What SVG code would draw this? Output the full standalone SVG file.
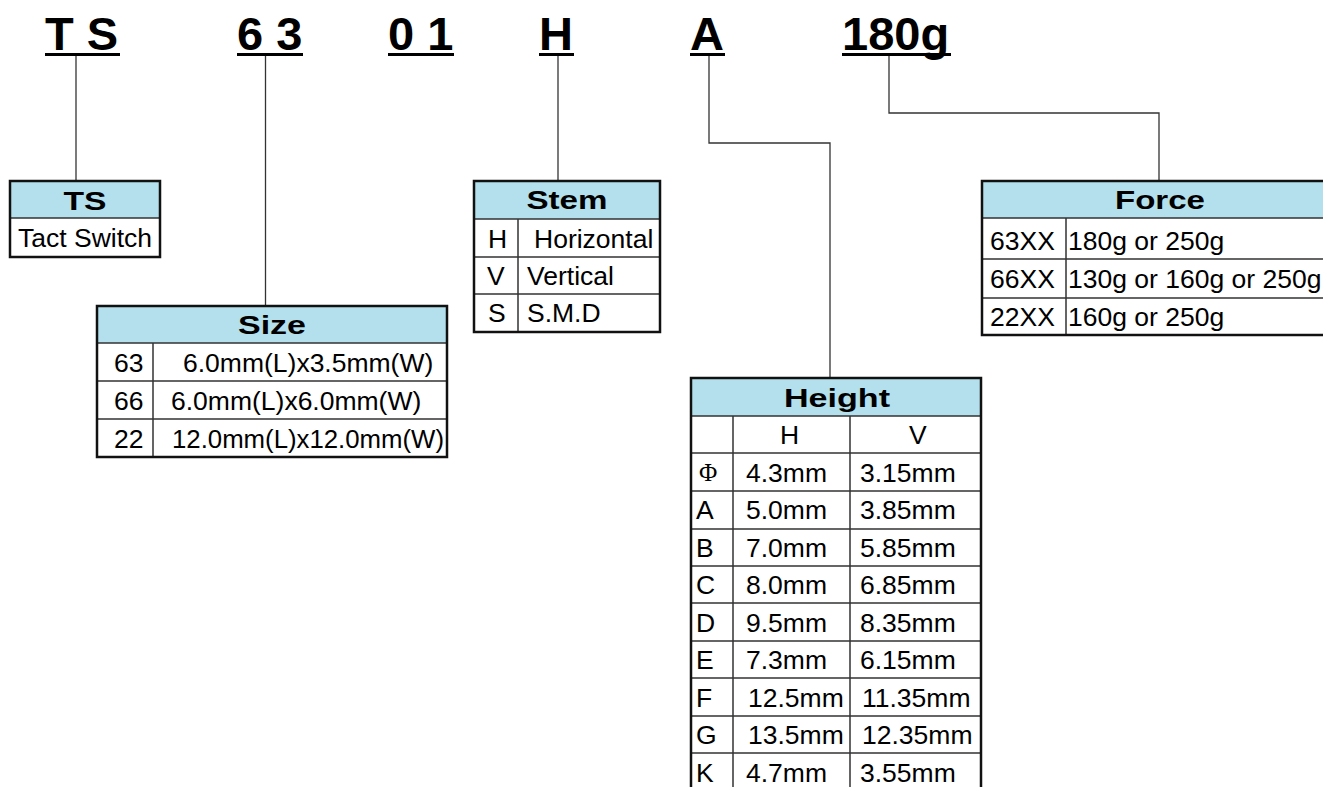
<svg xmlns="http://www.w3.org/2000/svg" width="1323" height="787" viewBox="0 0 1323 787">
<style>
.code{font-family:"Liberation Sans",Arial,sans-serif;font-weight:bold;font-size:47px;fill:#000}
.ul{fill:#000}
.hdr{fill:#B3E0EC}
.box{fill:none;stroke:#111;stroke-width:2.5}
.grid{stroke:#333;stroke-width:1.5;fill:none}
.ht{font-family:"Liberation Sans",Arial,sans-serif;font-weight:bold;font-size:25px;fill:#000;text-anchor:middle}
.t{font-family:"Liberation Sans",Arial,sans-serif;font-size:26.5px;fill:#000}
.phi{font-family:"Liberation Serif","Times New Roman",serif;font-size:25px;fill:#000}
.conn{stroke:#333;stroke-width:1.3;fill:none}
</style>
<rect width="1323" height="787" fill="#fff"/>
<g id="codes">
<text class="code" x="45" y="50">T S</text><rect class="ul" x="45" y="53" width="75" height="3"/>
<text class="code" x="237" y="50">6 3</text><rect class="ul" x="237" y="53" width="66" height="3"/>
<text class="code" x="388" y="50">0 1</text><rect class="ul" x="388" y="53" width="66" height="3"/>
<text class="code" x="539" y="50">H</text><rect class="ul" x="539" y="53" width="35" height="3"/>
<text class="code" x="690" y="50">A</text><rect class="ul" x="690" y="53" width="35" height="3"/>
<text class="code" x="842" y="50">180g</text><rect class="ul" x="842" y="53" width="109" height="3"/>
</g>
<g id="connectors">
<polyline class="conn" points="76,56 76,181"/>
<polyline class="conn" points="265.5,56 265.5,307"/>
<polyline class="conn" points="558,56 558,181"/>
<polyline class="conn" points="709,56 709,143 830,143 830,378"/>
<polyline class="conn" points="889,56 889,113 1159,113 1159,181"/>
</g>
<g id="ts">
<rect class="hdr" x="10" y="181" width="150" height="37"/>
<line class="grid" x1="10" y1="218" x2="160" y2="218"/>
<rect class="box" x="10" y="181" width="150" height="76"/>
<text class="ht" x="85" y="210" textLength="43" lengthAdjust="spacingAndGlyphs">TS</text>
<text class="t" x="18" y="247">Tact Switch</text>
</g>
<g id="size">
<rect class="hdr" x="97" y="306" width="350" height="37"/>
<path class="grid" d="M97 343H447M97 381H447M97 419H447M153 343V457"/>
<rect class="box" x="97" y="306" width="350" height="151"/>
<text class="ht" x="272" y="334" textLength="68" lengthAdjust="spacingAndGlyphs">Size</text>
<text class="t" x="114" y="372">63</text><text class="t" x="183" y="372">6.0mm(L)x3.5mm(W)</text>
<text class="t" x="114" y="410">66</text><text class="t" x="171" y="410">6.0mm(L)x6.0mm(W)</text>
<text class="t" x="114" y="448">22</text><text class="t" x="172" y="448" textLength="272" lengthAdjust="spacingAndGlyphs">12.0mm(L)x12.0mm(W)</text>
</g>
<g id="stem">
<rect class="hdr" x="474" y="181" width="186" height="38"/>
<path class="grid" d="M474 219H660M474 257H660M474 294H660M518 219V332"/>
<rect class="box" x="474" y="181" width="186" height="151"/>
<text class="ht" x="567" y="209" textLength="81" lengthAdjust="spacingAndGlyphs">Stem</text>
<text class="t" x="488" y="248">H</text><text class="t" x="534" y="248">Horizontal</text>
<text class="t" x="487" y="285">V</text><text class="t" x="527" y="285">Vertical</text>
<text class="t" x="488" y="322">S</text><text class="t" x="527" y="322">S.M.D</text>
</g>
<g id="height">
<rect class="hdr" x="691" y="378" width="290" height="38"/>
<path class="grid" d="M691 416H981M691 453H981M691 491H981M691 529H981M691 566H981M691 603H981M691 641H981M691 678H981M691 716H981M691 753H981M733 416V792M850 416V792"/>
<rect class="box" x="691" y="378" width="290" height="414"/>
<text class="ht" x="837" y="407" textLength="106" lengthAdjust="spacingAndGlyphs">Height</text>
<text class="t" x="780" y="444">H</text><text class="t" x="909" y="444">V</text>
<text class="phi" x="699" y="481">Φ</text><text class="t" x="746" y="482">4.3mm</text><text class="t" x="860" y="482">3.15mm</text>
<text class="t" x="696" y="519">A</text><text class="t" x="746" y="519">5.0mm</text><text class="t" x="860" y="519">3.85mm</text>
<text class="t" x="696" y="557">B</text><text class="t" x="746" y="557">7.0mm</text><text class="t" x="860" y="557">5.85mm</text>
<text class="t" x="696" y="594">C</text><text class="t" x="746" y="594">8.0mm</text><text class="t" x="860" y="594">6.85mm</text>
<text class="t" x="696" y="632">D</text><text class="t" x="746" y="632">9.5mm</text><text class="t" x="860" y="632">8.35mm</text>
<text class="t" x="696" y="669">E</text><text class="t" x="746" y="669">7.3mm</text><text class="t" x="860" y="669">6.15mm</text>
<text class="t" x="696" y="707">F</text><text class="t" x="748" y="707">12.5mm</text><text class="t" x="862" y="707">11.35mm</text>
<text class="t" x="696" y="744">G</text><text class="t" x="748" y="744">13.5mm</text><text class="t" x="862" y="744">12.35mm</text>
<text class="t" x="696" y="782">K</text><text class="t" x="746" y="782">4.7mm</text><text class="t" x="860" y="782">3.55mm</text>
</g>
<g id="force">
<rect class="hdr" x="982" y="181" width="350" height="37"/>
<path class="grid" d="M982 218H1332M982 259H1332M982 298H1332M1066 218V335"/>
<rect class="box" x="982" y="181" width="350" height="154"/>
<text class="ht" x="1160" y="209" textLength="90" lengthAdjust="spacingAndGlyphs">Force</text>
<text class="t" x="990" y="250">63XX</text><text class="t" x="1068" y="250">180g or 250g</text>
<text class="t" x="990" y="288">66XX</text><text class="t" x="1068" y="288">130g or 160g or 250g</text>
<text class="t" x="990" y="326">22XX</text><text class="t" x="1068" y="326">160g or 250g</text>
</g>
</svg>
